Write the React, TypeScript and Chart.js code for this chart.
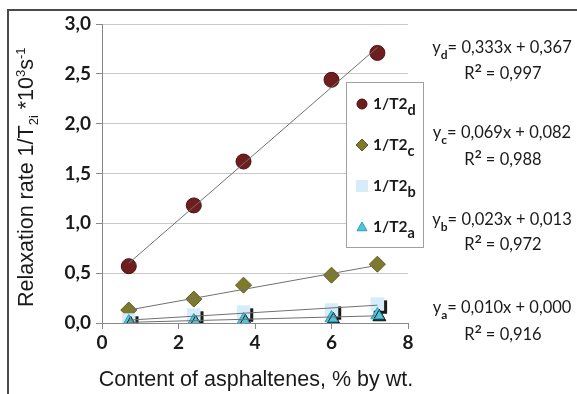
import React, { useEffect, useRef } from "react";
import { Chart, registerables } from "chart.js";

Chart.register(...registerables);

// Asphaltene content, % by wt.
const asphaltenes = [0.7, 2.4, 3.7, 6.0, 7.2];

// Relaxation rates 1/T2i * 10^3 s^-1 for the four components
const rateD = [0.57, 1.18, 1.62, 2.44, 2.71];
const rateC = [0.13, 0.24, 0.38, 0.48, 0.59];
const rateB = [0.03, 0.08, 0.11, 0.13, 0.19];
const rateA = [0.01, 0.02, 0.03, 0.05, 0.08];

// Linear fits (order: d, c, b, a)
const fitNames = ["d", "c", "b", "a"];
const fitSlopes = [0.333, 0.069, 0.023, 0.01];
const fitIntercepts = [0.367, 0.082, 0.013, 0.0];
const fitR2 = [0.997, 0.988, 0.972, 0.916];

const xTicks = [0, 2, 4, 6, 8];
const yTicks = [0, 0.5, 1.0, 1.5, 2.0, 2.5, 3.0];

const seriesColors = {
  d: { fill: "#6E1E1E", edge: "#4C1010", style: "circle", radius: 7.5 },
  c: { fill: "#7E7A2C", edge: "#5E5A1A", style: "rectRot", radius: 8 },
  b: { fill: "#D6ECF9", edge: "#D6ECF9", style: "rect", radius: 9.5 },
  a: { fill: "#4FC6DE", edge: "#2E9EB6", style: "triangle", radius: 7.5 },
};

const fmt = (v: number, d: number) => v.toFixed(d).replace(".", ",");

const pts = (ys: number[]) => asphaltenes.map((x, i) => ({ x, y: ys[i] }));

const fitLine = (k: number) => {
  const x0 = Math.min(...asphaltenes);
  const x1 = Math.max(...asphaltenes);
  return [
    { x: x0, y: fitSlopes[k] * x0 + fitIntercepts[k] },
    { x: x1, y: fitSlopes[k] * x1 + fitIntercepts[k] },
  ];
};

const markerShadow = {
  id: "markerShadow",
  beforeDatasetDraw(chart: any, args: any) {
    const ds = chart.data.datasets[args.index];
    if (ds.shadow) {
      const ctx = chart.ctx;
      ctx.save();
      ctx.shadowColor = "rgba(15,15,15,0.95)";
      ctx.shadowOffsetX = ds.shadow;
      ctx.shadowOffsetY = ds.shadow;
      ctx.shadowBlur = 0;
    }
  },
  afterDatasetDraw(chart: any, args: any) {
    const ds = chart.data.datasets[args.index];
    if (ds.shadow) chart.ctx.restore();
  },
};

function drawMarker(ctx: CanvasRenderingContext2D, key: string, x: number, y: number, r: number) {
  const s = (seriesColors as any)[key];
  ctx.save();
  ctx.fillStyle = s.fill;
  ctx.strokeStyle = s.edge;
  ctx.lineWidth = 1;
  ctx.beginPath();
  if (s.style === "circle") ctx.arc(x, y, r, 0, Math.PI * 2);
  else if (s.style === "rectRot") {
    ctx.moveTo(x, y - r);
    ctx.lineTo(x + r, y);
    ctx.lineTo(x, y + r);
    ctx.lineTo(x - r, y);
    ctx.closePath();
  } else if (s.style === "rect") ctx.rect(x - r, y - r, 2 * r, 2 * r);
  else {
    ctx.moveTo(x, y - r);
    ctx.lineTo(x + r, y + r * 0.75);
    ctx.lineTo(x - r, y + r * 0.75);
    ctx.closePath();
  }
  ctx.fill();
  if (s.style !== "rect") ctx.stroke();
  ctx.restore();
}

// Draws rich text pieces [text, font, baselineShift] starting at (x, y)
function drawRuns(ctx: CanvasRenderingContext2D, runs: [string, string, number][], x: number, y: number) {
  let cx = x;
  for (const [t, f, dy] of runs) {
    ctx.font = f;
    ctx.fillText(t, cx, y + dy);
    cx += ctx.measureText(t).width;
  }
  return cx - x;
}

function runsWidth(ctx: CanvasRenderingContext2D, runs: [string, string, number][]) {
  let w = 0;
  for (const [t, f] of runs) {
    ctx.font = f;
    w += ctx.measureText(t).width;
  }
  return w;
}

const annotations = {
  id: "annotations",
  afterDraw(chart: any) {
    const ctx: CanvasRenderingContext2D = chart.ctx;
    ctx.save();
    ctx.textAlign = "left";
    ctx.textBaseline = "alphabetic";
    ctx.fillStyle = "#1a1a1a";

    // Y axis title (rotated)
    const yMain = "21.5px 'Liberation Sans', Arial, sans-serif";
    const ySmall = "13px 'Liberation Sans', Arial, sans-serif";
    ctx.save();
    ctx.translate(33, 307);
    ctx.rotate(-Math.PI / 2);
    drawRuns(
      ctx,
      [
        ["Relaxation rate 1/T", yMain, 0],
        ["2i", ySmall, 5],
        [" *10", yMain, 0],
        ["3", ySmall, -8],
        ["s", yMain, 0],
        ["-1", ySmall, -8],
      ],
      0,
      0
    );
    ctx.restore();

    // X axis title
    ctx.font = "21.5px 'Liberation Sans', Arial, sans-serif";
    ctx.textAlign = "center";
    ctx.fillText("Content of asphaltenes, % by wt.", 256, 386);
    ctx.textAlign = "left";

    // Legend box
    const lx = 346, ly = 82, lw = 77, lh = 165;
    ctx.fillStyle = "#ffffff";
    ctx.fillRect(lx, ly, lw, lh);
    ctx.strokeStyle = "#a0a0a0";
    ctx.lineWidth = 1;
    ctx.strokeRect(lx + 0.5, ly + 0.5, lw, lh);
    const legendFont = "bold 15.5px Lato, sans-serif";
    const legendSub = "bold 14.5px Lato, sans-serif";
    fitNames.forEach((k, i) => {
      const cy = 104 + i * 41;
      const mr = k === "b" ? 6 : k === "c" ? 6 : 5;
      drawMarker(ctx, k, 362, cy, mr);
      ctx.fillStyle = "#1a1a1a";
      drawRuns(
        ctx,
        [
          ["1/T2", legendFont, 0],
          [k, legendSub, 6],
        ],
        373,
        cy + 5
      );
    });

    // Fit equations
    const eqFont = "16.5px Lato, sans-serif";
    const eqSmall = "bold 12px Lato, sans-serif";
    const eqBase = [53, 138, 225, 313];
    const r2Base = [79, 165, 250, 340];
    ctx.fillStyle = "#1a1a1a";
    fitNames.forEach((k, i) => {
      const eq: [string, string, number][] = [
        ["y", eqFont, 0],
        [k, eqSmall, 6],
        ["= " + fmt(fitSlopes[i], 3) + "x + " + fmt(fitIntercepts[i], 3), eqFont, 0],
      ];
      const w1 = runsWidth(ctx, eq);
      drawRuns(ctx, eq, 502 - w1 / 2, eqBase[i]);
      const r2: [string, string, number][] = [
        ["R", eqFont, 0],
        ["2", eqSmall, -7],
        [" = " + fmt(fitR2[i], 3), eqFont, 0],
      ];
      const w2 = runsWidth(ctx, r2);
      drawRuns(ctx, r2, 503 - w2 / 2, r2Base[i]);
    });

    // Outer frame
    ctx.strokeStyle = "#4a4a4a";
    ctx.lineWidth = 2;
    ctx.beginPath();
    ctx.moveTo(8, 394);
    ctx.lineTo(8, 10);
    ctx.lineTo(577, 10);
    ctx.stroke();
    ctx.restore();
  },
};

export default function App() {
  const ref = useRef<HTMLCanvasElement | null>(null);

  useEffect(() => {
    document.body.style.margin = "0";
    const canvas = ref.current;
    if (!canvas) return;

    const lineStyle = {
      type: "line" as const,
      borderColor: "#707070",
      borderWidth: 1,
      pointRadius: 0,
      fill: false,
      order: 0,
    };

    // Lower order is painted on top: triangles over squares over diamonds over circles
    const scatterDs = (key: string, ys: number[], shadow: number, order: number) => {
      const s = (seriesColors as any)[key];
      return {
        type: "scatter" as const,
        label: "1/T2" + key,
        data: pts(ys),
        pointStyle: s.style,
        pointRadius: s.radius,
        backgroundColor: s.fill,
        borderColor: s.edge,
        borderWidth: key === "b" ? 0 : 1,
        shadow,
        order,
      };
    };

    const chart = new Chart(canvas, {
      type: "scatter",
      data: {
        datasets: [
          { ...lineStyle, data: fitLine(0) },
          { ...lineStyle, data: fitLine(1) },
          { ...lineStyle, data: fitLine(2) },
          { ...lineStyle, data: fitLine(3) },
          scatterDs("d", rateD, 0, 4),
          scatterDs("c", rateC, 0, 3),
          scatterDs("b", rateB, 3, 2),
          scatterDs("a", rateA, 2, 1),
        ] as any,
      },
      options: {
        responsive: false,
        animation: false,
        layout: { padding: { top: 24, right: 169, left: 0, bottom: 0 } },
        plugins: { legend: { display: false }, tooltip: { enabled: false } },
        scales: {
          x: {
            type: "linear",
            min: 0,
            max: 8,
            afterBuildTicks: (s: any) => {
              s.ticks = xTicks.map((v) => ({ value: v }));
            },
            afterFit: (s: any) => {
              s.height = 71;
            },
            grid: { drawOnChartArea: false, tickLength: 6, tickColor: "#888888", lineWidth: 1 },
            border: { color: "#888888", width: 1 },
            ticks: {
              padding: 2,
              color: "#1a1a1a",
              font: { family: "Lato, sans-serif", size: 19, weight: "bold" },
              callback: (v: any) => String(v),
            },
          },
          y: {
            type: "linear",
            min: 0,
            max: 3,
            afterBuildTicks: (s: any) => {
              s.ticks = yTicks.map((v) => ({ value: v }));
            },
            afterFit: (s: any) => {
              s.width = 102;
            },
            grid: { color: "#c8c8c8", tickLength: 6, tickColor: "#888888", lineWidth: 1 },
            border: { color: "#888888", width: 1 },
            ticks: {
              padding: 5,
              color: "#1a1a1a",
              font: { family: "Lato, sans-serif", size: 19, weight: "bold" },
              callback: (v: any) => fmt(Number(v), 1),
            },
          },
        },
      },
      plugins: [markerShadow, annotations],
    });

    return () => chart.destroy();
  }, []);

  return (
    <div style={{ position: "absolute", left: 0, top: 0, width: 577, height: 394 }}>
      <canvas ref={ref} width={577} height={394} />
    </div>
  );
}
